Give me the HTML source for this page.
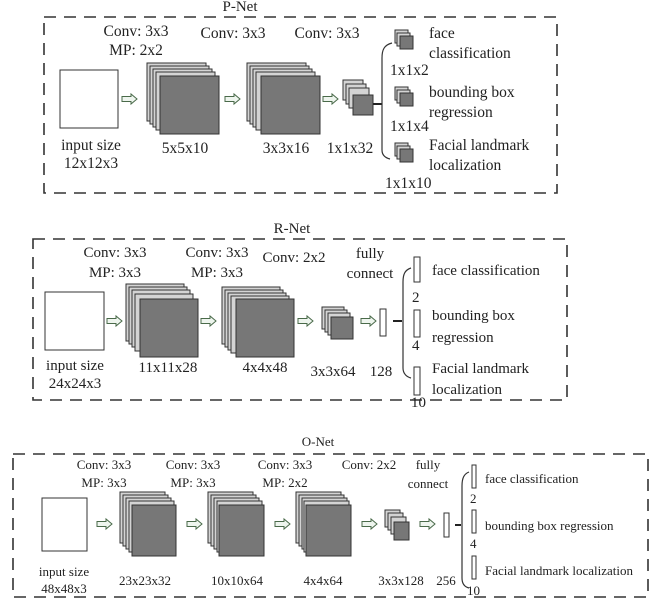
<!DOCTYPE html>
<html><head><meta charset="utf-8"><style>
html,body{margin:0;padding:0;background:#fff}
svg{display:block}
text{font-family:"Liberation Serif",serif;fill:#222}
.b{fill:none;stroke:#333;stroke-width:1.6;stroke-dasharray:12 8}
.l{fill:#d4d4d4;stroke:#333;stroke-width:1}
.f{fill:#777;stroke:#333;stroke-width:1}
.w{fill:#fff;stroke:#333;stroke-width:1}
.a{fill:#eef5ee;stroke:#4a6a4a;stroke-width:1}
.br{fill:none;stroke:#333;stroke-width:1.2}
</style></head><body>
<svg width="665" height="606" viewBox="0 0 665 606" xmlns="http://www.w3.org/2000/svg">
<defs>
<g id="arr"><path class="a" d="M0,-2.5 H9 V-5 L15,0 L9,5 V2.5 H0 Z"/></g>
</defs>

<!-- ===== P-Net ===== -->
<rect class="b" x="44" y="17" width="513" height="176"/>
<rect x="225" y="0" width="32" height="14" fill="#fff"/>
<text x="240" y="11" font-size="15" text-anchor="middle">P-Net</text>
<g font-size="15.5" text-anchor="middle">
<text x="136" y="36">Conv: 3x3</text><text x="136" y="55">MP: 2x2</text>
<text x="233" y="38">Conv: 3x3</text>
<text x="327" y="38">Conv: 3x3</text>
<text x="91" y="150">input size</text><text x="91" y="168">12x12x3</text>
<text x="185" y="153">5x5x10</text>
<text x="286" y="153">3x3x16</text>
<text x="350" y="153">1x1x32</text>
</g>
<rect class="w" x="60" y="70" width="58" height="58"/>
<use href="#arr" x="122" y="99"/><use href="#arr" x="225" y="99"/><use href="#arr" x="323" y="99"/>
<g>
<rect class="l" x="147" y="63" width="59" height="58"/><rect class="l" x="150" y="66" width="59" height="58"/>
<rect class="l" x="153" y="69" width="59" height="58"/><rect class="l" x="156" y="72" width="59" height="58"/>
<rect class="f" x="160" y="76" width="59" height="58"/>
</g>
<g>
<rect class="l" x="247" y="63" width="59" height="58"/><rect class="l" x="250" y="66" width="59" height="58"/>
<rect class="l" x="253" y="69" width="59" height="58"/><rect class="l" x="256" y="72" width="59" height="58"/>
<rect class="f" x="261" y="76" width="59" height="58"/>
</g>
<g>
<rect class="l" x="343" y="80" width="20" height="20"/><rect class="l" x="346" y="84" width="20" height="20"/>
<rect class="l" x="349" y="88" width="20" height="20"/><rect class="f" x="353" y="95" width="20" height="20"/>
</g>
<line x1="373" y1="104" x2="382" y2="104" stroke="#222" stroke-width="2"/>
<path class="br" d="M392,43 C384,45 382,50 382,58 V150 C382,156 386,158 390,159"/>
<g>
<rect class="l" x="395" y="30" width="13" height="13"/><rect class="l" x="397" y="33" width="13" height="13"/><rect class="f" x="400" y="36" width="13" height="13"/>
<rect class="l" x="395" y="87" width="13" height="13"/><rect class="l" x="397" y="90" width="13" height="13"/><rect class="f" x="400" y="93" width="13" height="13"/>
<rect class="l" x="395" y="143" width="13" height="13"/><rect class="l" x="397" y="146" width="13" height="13"/><rect class="f" x="400" y="149" width="13" height="13"/>
</g>
<g font-size="15.5">
<text x="429" y="38">face</text><text x="429" y="58">classification</text>
<text x="429" y="97">bounding box</text><text x="429" y="117">regression</text>
<text x="429" y="150">Facial landmark</text><text x="429" y="170">localization</text>
<text x="390" y="75">1x1x2</text><text x="390" y="131">1x1x4</text><text x="385" y="188">1x1x10</text>
</g>

<!-- ===== R-Net ===== -->
<rect class="b" x="33" y="239" width="534" height="161"/>
<rect x="275" y="222" width="36" height="14" fill="#fff"/>
<text x="292" y="233" font-size="15" text-anchor="middle">R-Net</text>
<g font-size="15" text-anchor="middle">
<text x="115" y="257">Conv: 3x3</text><text x="115" y="277">MP: 3x3</text>
<text x="217" y="257">Conv: 3x3</text><text x="217" y="277">MP: 3x3</text>
<text x="294" y="262">Conv: 2x2</text>
<text x="370" y="258">fully</text><text x="370" y="278">connect</text>
<text x="75" y="370">input size</text><text x="75" y="388">24x24x3</text>
<text x="168" y="372">11x11x28</text>
<text x="265" y="372">4x4x48</text>
<text x="333" y="376">3x3x64</text>
<text x="381" y="376">128</text>
</g>
<rect class="w" x="45" y="292" width="59" height="58"/>
<use href="#arr" x="107" y="321"/><use href="#arr" x="201" y="321"/><use href="#arr" x="298" y="321"/><use href="#arr" x="361" y="321"/>
<g>
<rect class="l" x="126" y="284" width="58" height="57"/><rect class="l" x="129" y="287" width="58" height="57"/>
<rect class="l" x="132" y="290" width="58" height="57"/><rect class="l" x="135" y="294" width="58" height="57"/>
<rect class="f" x="140" y="299" width="58" height="58"/>
</g>
<g>
<rect class="l" x="222" y="287" width="58" height="57"/><rect class="l" x="225" y="290" width="58" height="57"/>
<rect class="l" x="228" y="293" width="58" height="57"/><rect class="l" x="231" y="296" width="58" height="57"/>
<rect class="f" x="236" y="299" width="58" height="58"/>
</g>
<g>
<rect class="l" x="322" y="307" width="22" height="22"/><rect class="l" x="325" y="310" width="22" height="22"/>
<rect class="l" x="328" y="313" width="22" height="22"/><rect class="f" x="331" y="317" width="22" height="22"/>
</g>
<rect class="w" x="380" y="309" width="6" height="27"/>
<line x1="393" y1="321" x2="402" y2="321" stroke="#222" stroke-width="2"/>
<path class="br" d="M411,268 C405,270 403,274 403,282 V368 C403,374 407,377 411,378"/>
<rect class="w" x="414" y="257" width="6" height="25"/>
<rect class="w" x="414" y="310" width="6" height="27"/>
<rect class="w" x="414" y="367" width="6" height="28"/>
<g font-size="15">
<text x="432" y="275">face classification</text>
<text x="412" y="302">2</text>
<text x="432" y="320">bounding box</text><text x="432" y="342">regression</text>
<text x="412" y="350">4</text>
<text x="432" y="373">Facial landmark</text><text x="432" y="394">localization</text>
<text x="411" y="407">10</text>
</g>

<!-- ===== O-Net ===== -->
<rect class="b" x="13" y="454" width="635" height="143"/>
<rect x="300" y="436" width="36" height="14" fill="#fff"/>
<text x="318" y="446" font-size="13" text-anchor="middle">O-Net</text>
<g font-size="13" text-anchor="middle">
<text x="104" y="469">Conv: 3x3</text><text x="104" y="487">MP: 3x3</text>
<text x="193" y="469">Conv: 3x3</text><text x="193" y="487">MP: 3x3</text>
<text x="285" y="469">Conv: 3x3</text><text x="285" y="487">MP: 2x2</text>
<text x="369" y="469">Conv: 2x2</text>
<text x="428" y="469">fully</text><text x="428" y="488">connect</text>
<text x="64" y="576">input size</text><text x="64" y="593">48x48x3</text>
<text x="145" y="585">23x23x32</text>
<text x="237" y="585">10x10x64</text>
<text x="323" y="585">4x4x64</text>
<text x="401" y="585">3x3x128</text>
<text x="446" y="585">256</text>
</g>
<rect class="w" x="42" y="498" width="45" height="53"/>
<use href="#arr" x="97" y="524"/><use href="#arr" x="187" y="524"/><use href="#arr" x="275" y="524"/><use href="#arr" x="362" y="524"/><use href="#arr" x="420" y="524"/>
<g>
<rect class="l" x="120" y="492" width="45" height="51"/><rect class="l" x="123" y="495" width="45" height="51"/>
<rect class="l" x="126" y="498" width="45" height="51"/><rect class="l" x="129" y="501" width="45" height="51"/>
<rect class="f" x="132" y="505" width="44" height="51"/>
</g>
<g>
<rect class="l" x="208" y="492" width="45" height="51"/><rect class="l" x="211" y="495" width="45" height="51"/>
<rect class="l" x="214" y="498" width="45" height="51"/><rect class="l" x="217" y="501" width="45" height="51"/>
<rect class="f" x="219" y="505" width="45" height="51"/>
</g>
<g>
<rect class="l" x="296" y="492" width="45" height="51"/><rect class="l" x="299" y="495" width="45" height="51"/>
<rect class="l" x="302" y="498" width="45" height="51"/><rect class="l" x="304" y="501" width="45" height="51"/>
<rect class="f" x="306" y="505" width="45" height="51"/>
</g>
<g>
<rect class="l" x="385" y="510" width="15" height="17"/><rect class="l" x="388" y="513" width="15" height="17"/>
<rect class="l" x="391" y="517" width="15" height="17"/><rect class="f" x="394" y="522" width="15" height="18"/>
</g>
<rect class="w" x="444" y="513" width="5" height="24"/>
<line x1="455" y1="525" x2="461" y2="525" stroke="#222" stroke-width="2"/>
<path class="br" d="M469,472 C464,474 462,478 462,486 V578 C462,584 465,587 469,588"/>
<rect class="w" x="472" y="465" width="4" height="23"/>
<rect class="w" x="472" y="510" width="4" height="23"/>
<rect class="w" x="472" y="556" width="4" height="23"/>
<g font-size="13">
<text x="485" y="483">face classification</text>
<text x="470" y="503">2</text>
<text x="485" y="530">bounding box regression</text>
<text x="470" y="548">4</text>
<text x="485" y="575">Facial landmark localization</text>
<text x="467" y="595">10</text>
</g>
</svg>
</body></html>
